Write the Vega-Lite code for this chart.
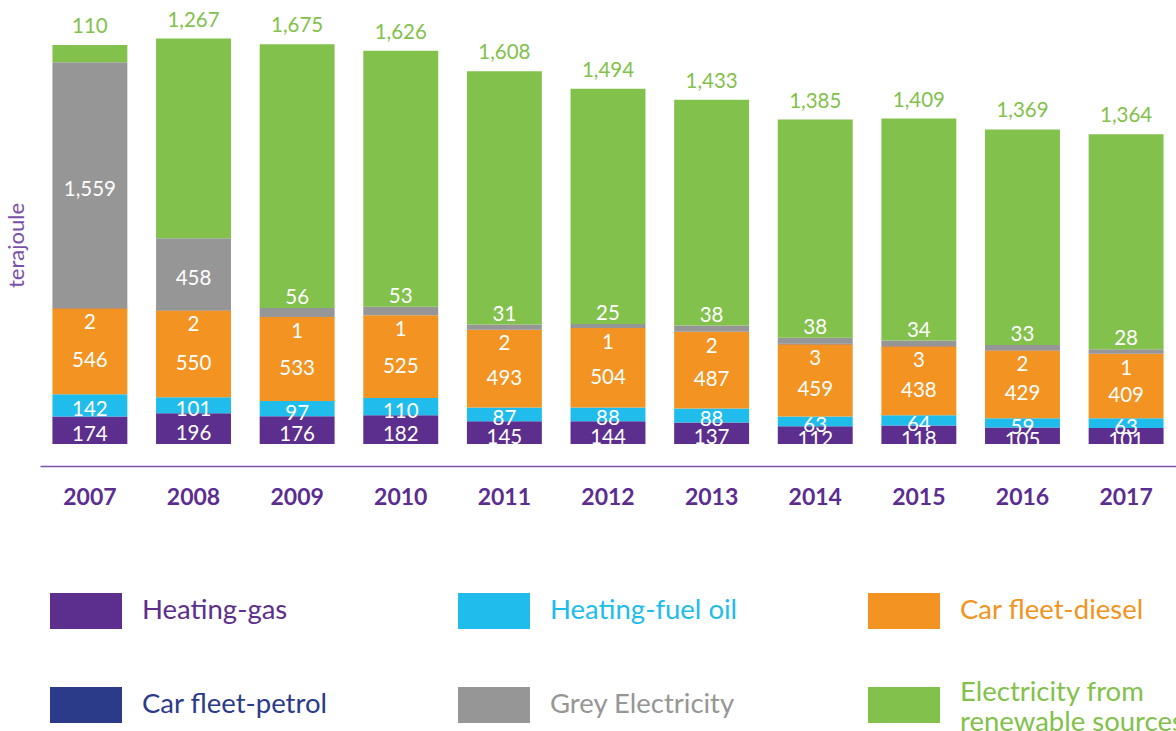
{
  "$schema": "https://vega.github.io/schema/vega-lite/v6.json",
  "width": 1136,
  "height": 444,
  "autosize": {"type": "none"},
  "padding": {"left": 40, "top": 0, "right": 0, "bottom": 287},
  "background": "white",
  "config": {
    "view": {"stroke": null},
    "font": "Lato",
    "axisY": {"labels": false, "ticks": false, "domain": false, "grid": false,
      "titleX": -24, "titleY": 245, "titleAlign": "center", "titleBaseline": "middle", "titleAngle": -90,
      "titleFontSize": 22, "titleFontWeight": "normal", "titleColor": "#7a4fa8", "titleFont": "Lato"}
  },
  "data": {"values": [
    {"year": "2007", "cat": "Heating-gas", "v": 174},
    {"year": "2007", "cat": "Heating-fuel oil", "v": 142},
    {"year": "2007", "cat": "Car fleet-diesel", "v": 546},
    {"year": "2007", "cat": "Car fleet-petrol", "v": 2},
    {"year": "2007", "cat": "Grey Electricity", "v": 1559},
    {"year": "2007", "cat": "Electricity from renewable sources", "v": 110},
    {"year": "2008", "cat": "Heating-gas", "v": 196},
    {"year": "2008", "cat": "Heating-fuel oil", "v": 101},
    {"year": "2008", "cat": "Car fleet-diesel", "v": 550},
    {"year": "2008", "cat": "Car fleet-petrol", "v": 2},
    {"year": "2008", "cat": "Grey Electricity", "v": 458},
    {"year": "2008", "cat": "Electricity from renewable sources", "v": 1267},
    {"year": "2009", "cat": "Heating-gas", "v": 176},
    {"year": "2009", "cat": "Heating-fuel oil", "v": 97},
    {"year": "2009", "cat": "Car fleet-diesel", "v": 533},
    {"year": "2009", "cat": "Car fleet-petrol", "v": 1},
    {"year": "2009", "cat": "Grey Electricity", "v": 56},
    {"year": "2009", "cat": "Electricity from renewable sources", "v": 1675},
    {"year": "2010", "cat": "Heating-gas", "v": 182},
    {"year": "2010", "cat": "Heating-fuel oil", "v": 110},
    {"year": "2010", "cat": "Car fleet-diesel", "v": 525},
    {"year": "2010", "cat": "Car fleet-petrol", "v": 1},
    {"year": "2010", "cat": "Grey Electricity", "v": 53},
    {"year": "2010", "cat": "Electricity from renewable sources", "v": 1626},
    {"year": "2011", "cat": "Heating-gas", "v": 145},
    {"year": "2011", "cat": "Heating-fuel oil", "v": 87},
    {"year": "2011", "cat": "Car fleet-diesel", "v": 493},
    {"year": "2011", "cat": "Car fleet-petrol", "v": 2},
    {"year": "2011", "cat": "Grey Electricity", "v": 31},
    {"year": "2011", "cat": "Electricity from renewable sources", "v": 1608},
    {"year": "2012", "cat": "Heating-gas", "v": 144},
    {"year": "2012", "cat": "Heating-fuel oil", "v": 88},
    {"year": "2012", "cat": "Car fleet-diesel", "v": 504},
    {"year": "2012", "cat": "Car fleet-petrol", "v": 1},
    {"year": "2012", "cat": "Grey Electricity", "v": 25},
    {"year": "2012", "cat": "Electricity from renewable sources", "v": 1494},
    {"year": "2013", "cat": "Heating-gas", "v": 137},
    {"year": "2013", "cat": "Heating-fuel oil", "v": 88},
    {"year": "2013", "cat": "Car fleet-diesel", "v": 487},
    {"year": "2013", "cat": "Car fleet-petrol", "v": 2},
    {"year": "2013", "cat": "Grey Electricity", "v": 38},
    {"year": "2013", "cat": "Electricity from renewable sources", "v": 1433},
    {"year": "2014", "cat": "Heating-gas", "v": 112},
    {"year": "2014", "cat": "Heating-fuel oil", "v": 63},
    {"year": "2014", "cat": "Car fleet-diesel", "v": 459},
    {"year": "2014", "cat": "Car fleet-petrol", "v": 3},
    {"year": "2014", "cat": "Grey Electricity", "v": 38},
    {"year": "2014", "cat": "Electricity from renewable sources", "v": 1385},
    {"year": "2015", "cat": "Heating-gas", "v": 118},
    {"year": "2015", "cat": "Heating-fuel oil", "v": 64},
    {"year": "2015", "cat": "Car fleet-diesel", "v": 438},
    {"year": "2015", "cat": "Car fleet-petrol", "v": 3},
    {"year": "2015", "cat": "Grey Electricity", "v": 34},
    {"year": "2015", "cat": "Electricity from renewable sources", "v": 1409},
    {"year": "2016", "cat": "Heating-gas", "v": 105},
    {"year": "2016", "cat": "Heating-fuel oil", "v": 59},
    {"year": "2016", "cat": "Car fleet-diesel", "v": 429},
    {"year": "2016", "cat": "Car fleet-petrol", "v": 2},
    {"year": "2016", "cat": "Grey Electricity", "v": 33},
    {"year": "2016", "cat": "Electricity from renewable sources", "v": 1369},
    {"year": "2017", "cat": "Heating-gas", "v": 101},
    {"year": "2017", "cat": "Heating-fuel oil", "v": 63},
    {"year": "2017", "cat": "Car fleet-diesel", "v": 409},
    {"year": "2017", "cat": "Car fleet-petrol", "v": 1},
    {"year": "2017", "cat": "Grey Electricity", "v": 28},
    {"year": "2017", "cat": "Electricity from renewable sources", "v": 1364}
  ]},
  "transform": [
    {"calculate": "indexof(['Heating-gas','Heating-fuel oil','Car fleet-diesel','Car fleet-petrol','Grey Electricity','Electricity from renewable sources'], datum.cat)", "as": "k"},
    {"stack": "v", "groupby": ["year"], "sort": [{"field": "k", "order": "ascending"}], "as": ["y0", "y1"]},
    {"calculate": "(datum.y0 + datum.y1) / 2", "as": "mid"}
  ],
  "encoding": {
    "x": {
      "field": "year", "type": "ordinal",
      "scale": {"paddingInner": 0.277, "paddingOuter": 0.12},
      "axis": {"title": null, "labelAngle": 0, "ticks": false, "tickSize": 0, "offset": 22,
        "domainColor": "#7a55a8", "domainWidth": 1.5, "labelFont": "Lato", "labelFontSize": 23,
        "labelFontWeight": "bold", "labelColor": "#5c2d91", "labelPadding": 31, "labelBaseline": "middle", "grid": false}
    }
  },
  "layer": [
    {
      "mark": {"type": "bar"},
      "encoding": {
        "y": {"field": "y0", "type": "quantitative", "title": "terajoule", "scale": {"domain": [0, 2819], "nice": false, "zero": true}},
        "y2": {"field": "y1"},
        "color": {
          "field": "cat", "type": "nominal",
          "scale": {
            "domain": ["Heating-gas", "Heating-fuel oil", "Car fleet-diesel", "Car fleet-petrol", "Grey Electricity", "Electricity from renewable sources"],
            "range": ["#5c2e8e", "#20bdec", "#f39321", "#2c3a8a", "#969696", "#82c14b"]
          },
          "legend": {
            "orient": "none", "legendX": 10, "legendY": 575, "title": null, "columns": 3, "direction": "horizontal",
            "symbolType": "M-1,-0.5H1V0.5H-1Z", "symbolSize": 5184, "symbolStrokeWidth": 0, "symbolOpacity": 1,
            "labelFont": "Lato", "labelFontSize": 27.5, "labelOffset": 20, "labelLimit": 500,
            "columnPadding": 130, "rowPadding": 40, "gridAlign": "each", "padding": 0,
            "labelExpr": "datum.label == 'Electricity from renewable sources' ? ['Electricity from', 'renewable sources'] : datum.label",
            "encode": {"labels": {"update": {
              "fill": {"scale": "color", "field": "value"},
              "lineHeight": {"value": 30},
              "dy": {"signal": "datum.value == 'Electricity from renewable sources' ? -12 : 0"}
            }}}
          }
        }
      }
    },
    {
      "transform": [{"filter": "datum.k <= 1"}],
      "mark": {"type": "text", "color": "white", "fontSize": 20.5, "font": "Lato", "baseline": "middle", "dy": 5},
      "encoding": {
        "y": {"field": "mid", "type": "quantitative", "title": "terajoule", "scale": {"domain": [0, 2819], "nice": false}},
        "text": {"field": "v", "type": "quantitative", "format": ","}
      }
    },
    {
      "transform": [{"filter": "datum.k == 2"}],
      "mark": {"type": "text", "color": "white", "fontSize": 20.5, "font": "Lato", "baseline": "middle", "dy": 10},
      "encoding": {
        "y": {"field": "mid", "type": "quantitative", "title": "terajoule", "scale": {"domain": [0, 2819], "nice": false}},
        "text": {"field": "v", "type": "quantitative", "format": ","}
      }
    },
    {
      "transform": [{"filter": "datum.k == 3"}],
      "mark": {"type": "text", "color": "white", "fontSize": 20.5, "font": "Lato", "baseline": "middle", "dy": 15},
      "encoding": {
        "y": {"field": "y1", "type": "quantitative", "title": "terajoule", "scale": {"domain": [0, 2819], "nice": false}},
        "text": {"field": "v", "type": "quantitative", "format": ","}
      }
    },
    {
      "transform": [{"filter": "datum.k == 4 && datum.v >= 100"}],
      "mark": {"type": "text", "color": "white", "fontSize": 20.5, "font": "Lato", "baseline": "middle", "dy": 5},
      "encoding": {
        "y": {"field": "mid", "type": "quantitative", "title": "terajoule", "scale": {"domain": [0, 2819], "nice": false}},
        "text": {"field": "v", "type": "quantitative", "format": ","}
      }
    },
    {
      "transform": [{"filter": "datum.k == 4 && datum.v < 100"}],
      "mark": {"type": "text", "color": "white", "fontSize": 20.5, "font": "Lato", "baseline": "middle", "dy": -10},
      "encoding": {
        "y": {"field": "y1", "type": "quantitative", "title": "terajoule", "scale": {"domain": [0, 2819], "nice": false}},
        "text": {"field": "v", "type": "quantitative", "format": ","}
      }
    },
    {
      "transform": [{"filter": "datum.k == 5"}],
      "mark": {"type": "text", "color": "#82c14b", "fontSize": 20.5, "font": "Lato", "baseline": "middle", "dy": -18},
      "encoding": {
        "y": {"field": "y1", "type": "quantitative", "title": "terajoule", "scale": {"domain": [0, 2819], "nice": false}},
        "text": {"field": "v", "type": "quantitative", "format": ","}
      }
    }
  ]
}
